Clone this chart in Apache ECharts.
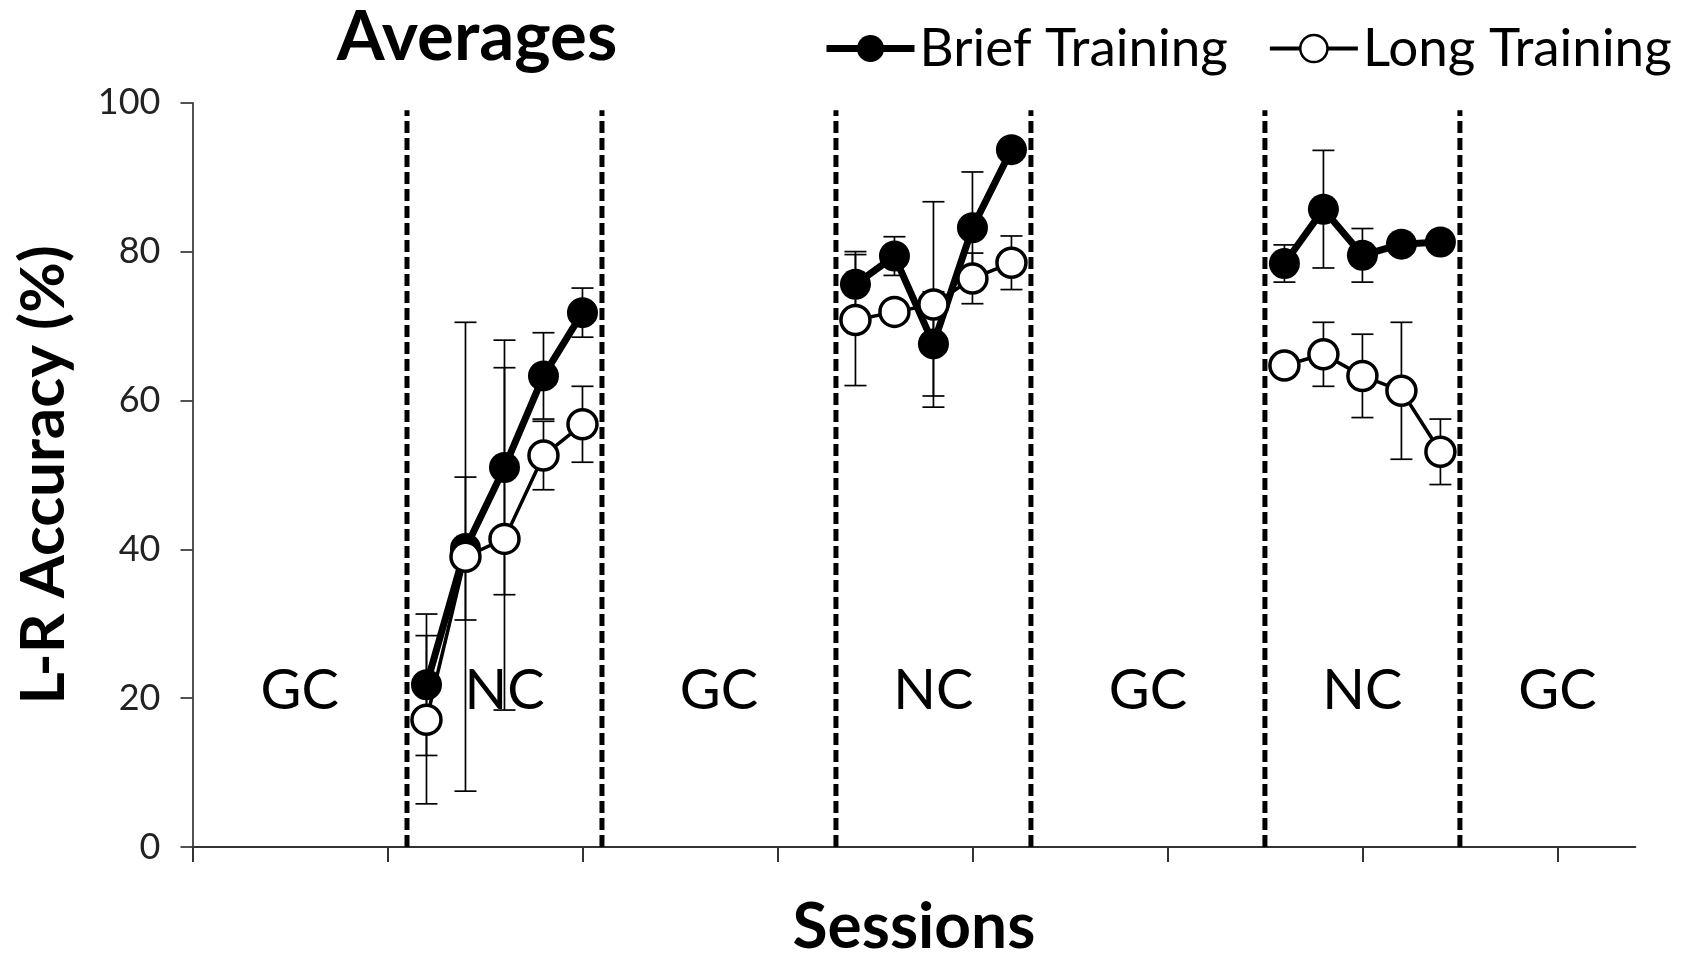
<!DOCTYPE html>
<html><head><meta charset="utf-8">
<script src="https://cdn.jsdelivr.net/npm/echarts@6/dist/echarts.min.js"></script>
<style>html,body{margin:0;padding:0;background:#fff}#c{width:1696px;height:964px}</style>
</head><body><div id="c"></div>
<script>
// ---- data ----
const sessions   = [6, 7, 8, 9, 10, 17, 18, 19, 20, 21, 28, 29, 30, 31, 32];
const briefMean  = [21.8, 40.1, 51.0, 63.3, 71.8, 75.6, 79.4, 67.6, 83.2, 93.7, 78.4, 85.7, 79.5, 81.0, 81.3];
const briefErr   = [9.5, 9.6, 17.1, 5.8, 3.3, 4.4, 2.6, 7.0, 7.5, 1.0, 2.5, 7.9, 3.6, 0.8, 0.8];
const longMean   = [17.1, 39.0, 41.4, 52.6, 56.8, 70.8, 71.9, 72.9, 76.4, 78.5, 64.7, 66.2, 63.3, 61.3, 53.1];
const longErr    = [11.3, 31.5, 23.0, 4.6, 5.1, 8.8, 1.0, 13.8, 3.4, 3.6, 1.0, 4.3, 5.6, 9.2, 4.4];
const phaseBoundaries = [5.5, 10.5, 16.5, 21.5, 27.5, 32.5];
const phaseNames   = ['GC', 'NC', 'GC', 'NC', 'GC', 'NC', 'GC'];
const phaseCenters = [2.75, 8, 13.5, 19, 24.5, 30, 35];
const phaseLabelY  = 21;
const xTicks = [0, 5, 10, 15, 20, 25, 30, 35];
const xMax = 37;
const yMin = 0, yMax = 100, yStep = 20;
const boundaryTop = 99;

const FONT = 'Lato, "Open Sans", sans-serif';

function blocks(xs, ys) {
  const out = []; let cur = [];
  xs.forEach((x, i) => {
    if (cur.length && x - cur[cur.length - 1][0] > 1) { out.push(cur); cur = []; }
    cur.push([x, ys[i]]);
  });
  if (cur.length) out.push(cur);
  return out;
}

function errRender(params, api) {
  const x = api.value(0), m = api.value(1), e = api.value(2);
  const top = api.coord([x, m + e]), bot = api.coord([x, m - e]);
  const hw = 11;
  const st = { stroke: '#000', lineWidth: 1.7 };
  return { type: 'group', children: [
    { type: 'line', shape: { x1: top[0], y1: top[1], x2: bot[0], y2: bot[1] }, style: st },
    { type: 'line', shape: { x1: top[0] - hw, y1: top[1], x2: top[0] + hw, y2: top[1] }, style: st },
    { type: 'line', shape: { x1: bot[0] - hw, y1: bot[1], x2: bot[0] + hw, y2: bot[1] }, style: st }
  ]};
}

const series = [];
// dashed phase boundaries
series.push({
  type: 'custom', z: 1, silent: true,
  data: phaseBoundaries.map(b => [b]),
  encode: { x: 0 },
  renderItem: (params, api) => {
    const b = api.value(0);
    const p0 = api.coord([b, yMin]), p1 = api.coord([b, boundaryTop]);
    return { type: 'line', shape: { x1: p0[0], y1: p0[1], x2: p1[0], y2: p1[1] },
      style: { stroke: '#000', lineWidth: 5, lineDash: [12, 5] } };
  }
});
// phase labels
series.push({
  type: 'scatter', z: 1, silent: true, symbolSize: 0,
  itemStyle: { opacity: 1 },
  data: phaseCenters.map((c, i) => ({ value: [c, phaseLabelY], name: phaseNames[i] })),
  label: { show: true, position: 'inside', formatter: p => p.name, opacity: 1,
    fontSize: 56, fontFamily: FONT, color: '#000' }
});
// error bars
series.push({ type: 'custom', z: 2, silent: true, renderItem: errRender, encode: { x: 0, y: 1 },
  data: sessions.map((s, i) => [s, briefMean[i], briefErr[i]]) });
series.push({ type: 'custom', z: 2, silent: true, renderItem: errRender, encode: { x: 0, y: 1 },
  data: sessions.map((s, i) => [s, longMean[i], longErr[i]]) });
// brief
blocks(sessions, briefMean).forEach(d => series.push({
  name: 'Brief Training', type: 'line', z: 3, data: d,
  symbol: 'circle', symbolSize: 31,
  lineStyle: { color: '#000', width: 7 },
  itemStyle: { color: '#000', borderColor: '#000', borderWidth: 0 }
}));
// long
blocks(sessions, longMean).forEach(d => series.push({
  name: 'Long Training', type: 'line', z: 4, data: d,
  symbol: 'circle', symbolSize: 29,
  lineStyle: { color: '#000', width: 3.5 },
  itemStyle: { color: '#fff', borderColor: '#000', borderWidth: 3.5 }
}));

const chart = echarts.init(document.getElementById('c'));
chart.setOption({
  animation: false,
  backgroundColor: '#fff',
  grid: { left: 192.5, right: 60.6, top: 102.75, bottom: 111.3 },
  legend: {
    data: [
      { name: 'Brief Training', lineStyle: { width: 7, color: '#000' } },
      { name: 'Long Training', lineStyle: { width: 4, color: '#000' }, itemStyle: { borderWidth: 2.5 } }
    ],
    left: 818, top: 17, itemWidth: 88, itemHeight: 34, itemGap: 40,
    textStyle: { fontSize: 53, fontFamily: FONT, color: '#000' }
  },
  graphic: [{
    type: 'text', x: 477, y: 38,
    style: { text: 'Averages', font: 'bold 69px ' + FONT, fill: '#000',
      textAlign: 'center', textVerticalAlign: 'middle' }
  }],
  xAxis: {
    type: 'value', min: 0, max: xMax, interval: 5,
    name: 'Sessions', nameLocation: 'middle', nameGap: 48,
    nameTextStyle: { fontSize: 64, fontWeight: 'bold', fontFamily: FONT, color: '#000' },
    axisLine: { lineStyle: { color: '#333', width: 2 } },
    axisTick: { show: true, length: 15, lineStyle: { color: '#333', width: 2 }, customValues: xTicks },
    axisLabel: { show: false },
    splitLine: { show: false }
  },
  yAxis: {
    type: 'value', min: yMin, max: yMax, interval: yStep,
    name: 'L-R Accuracy (%)', nameLocation: 'middle', nameGap: 118,
    nameTextStyle: { fontSize: 62, fontWeight: 'bold', fontFamily: FONT, color: '#000' },
    axisLine: { show: true, lineStyle: { color: '#333', width: 1.7 } },
    axisTick: { show: true, length: 12, lineStyle: { color: '#333', width: 1.7 } },
    axisLabel: { fontSize: 36, fontFamily: FONT, color: '#222', margin: 32 },
    splitLine: { show: false }
  },
  series: series
});
</script></body></html>
